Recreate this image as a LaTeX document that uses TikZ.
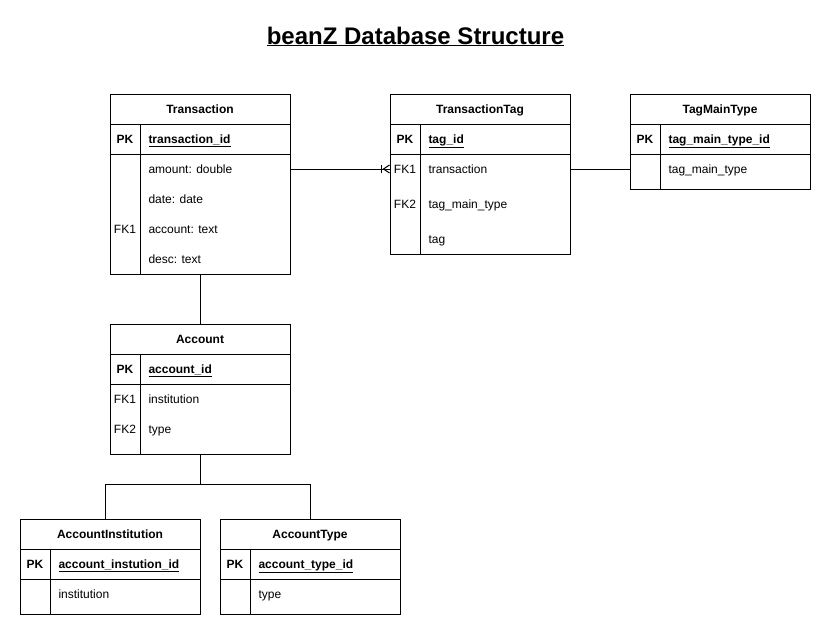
\documentclass[tikz,border=0pt]{standalone}
\usepackage{fontspec}
\setmainfont{Liberation Sans}
\usetikzlibrary{calc,positioning}

\begin{document}
\begin{tikzpicture}[x=1pt, y=-1pt, line width=1pt,
  every node/.style={font=\fontsize{12}{14}\selectfont, inner sep=0pt},
  entity/.style={draw, minimum width=180pt},
  head/.style={font=\fontsize{12}{14}\selectfont\bfseries, text height=10pt, text depth=1pt},
  key/.style={font=\fontsize{12}{14}\selectfont\bfseries, text height=10pt, text depth=1pt},
  field/.style={anchor=west, text height=10pt, text depth=1pt},
  fk/.style={text height=10pt, text depth=1pt}]
  \useasboundingbox (0,0) rectangle (831,635);

  % Title
  \node[font=\fontsize{24}{28}\selectfont\bfseries, anchor=base] (title) at (415.5,44) {\underline{beanZ Database Structure}};

  % Transaction
  \node[entity, minimum height=180pt] (tr) at (200,184) {};
  \draw (110,124) -- (290,124);
  \draw (110,154) -- (290,154);
  \draw (140,124) -- (140,274);
  \node[head] (trhead) at (200,109) {Transaction};
  \node[key] (trpk) at (125,139) {PK};
  \node[key, anchor=west] (trid) at (148,139) {\underline{transaction\_id}};
  \node[field] (tramount) at (148,169) {amount: double};
  \node[field] (trdate) at (148,199) {date: date};
  \node[field] (tracc) at (148,229) {account: text};
  \node[field] (trdesc) at (148,259) {desc: text};
  \node[fk] (trfk1) at (125,229) {FK1};

  % TransactionTag
  \node[entity, minimum height=160pt] (tt) at (480,174) {};
  \draw (390,124) -- (570,124);
  \draw (390,154) -- (570,154);
  \draw (420,124) -- (420,254);
  \node[head] (tthead) at (480,109) {TransactionTag};
  \node[key] (ttpk) at (405,139) {PK};
  \node[key, anchor=west] (ttid) at (428,139) {\underline{tag\_id}};
  \node[field] (tttrans) at (428,169) {transaction};
  \node[field] (ttmain) at (428,204) {tag\_main\_type};
  \node[field] (tttag) at (428,239) {tag};
  \node[fk] (ttfk1) at (405,169) {FK1};
  \node[fk] (ttfk2) at (405,204) {FK2};

  % TagMainType
  \node[entity, minimum height=95pt] (tm) at (720,141.5) {};
  \draw (630,124) -- (810,124);
  \draw (630,154) -- (810,154);
  \draw (660,124) -- (660,189);
  \node[head] (tmhead) at (720,109) {TagMainType};
  \node[key] (tmpk) at (645,139) {PK};
  \node[key, anchor=west] (tmid) at (668,139) {\underline{tag\_main\_type\_id}};
  \node[field] (tmtype) at (668,169) {tag\_main\_type};

  % Account
  \node[entity, minimum height=130pt] (acc) at (200,389) {};
  \draw (110,354) -- (290,354);
  \draw (110,384) -- (290,384);
  \draw (140,354) -- (140,454);
  \node[head] (acchead) at (200,339) {Account};
  \node[key] (accpk) at (125,369) {PK};
  \node[key, anchor=west] (accid) at (148,369) {\underline{account\_id}};
  \node[field] (accinstf) at (148,399) {institution};
  \node[field] (acctypef) at (148,429) {type};
  \node[fk] (accfk1) at (125,399) {FK1};
  \node[fk] (accfk2) at (125,429) {FK2};

  % AccountInstitution
  \node[entity, minimum height=95pt] (ai) at (110,566.5) {};
  \draw (20,549) -- (200,549);
  \draw (20,579) -- (200,579);
  \draw (50,549) -- (50,614);
  \node[head] (aihead) at (110,534) {AccountInstitution};
  \node[key] (aipk) at (35,564) {PK};
  \node[key, anchor=west] (aiid) at (58,564) {\underline{account\_instution\_id}};
  \node[field] (aiinst) at (58,594) {institution};

  % AccountType
  \node[entity, minimum height=95pt] (at) at (310,566.5) {};
  \draw (220,549) -- (400,549);
  \draw (220,579) -- (400,579);
  \draw (250,549) -- (250,614);
  \node[head] (athead) at (310,534) {AccountType};
  \node[key] (atpk) at (235,564) {PK};
  \node[key, anchor=west] (atid) at (258,564) {\underline{account\_type\_id}};
  \node[field] (attype) at (258,594) {type};

  % Transaction -> TransactionTag (one or many)
  \draw (tr.east |- ttfk1) -- (tt.west |- ttfk1);
  \draw ($(tt.west |- ttfk1)+(-8,-4)$) -- ++(0,8);
  \draw ($(tt.west |- ttfk1)+(0,-4)$) -- ++(-6,4) -- ++(6,4);

  % TransactionTag -> TagMainType
  \draw (tt.east |- ttfk1) -- (tm.west |- ttfk1);

  % Transaction -> Account
  \draw (tr.south) -- (acc.north);

  % Account -> AccountInstitution / AccountType
  \coordinate (fork) at (200,484);
  \draw (acc.south) -- (fork);
  \draw (fork) -| ($(ai.north)+(-5,0)$);
  \draw (fork) -| (at.north);

\end{tikzpicture}
\end{document}
